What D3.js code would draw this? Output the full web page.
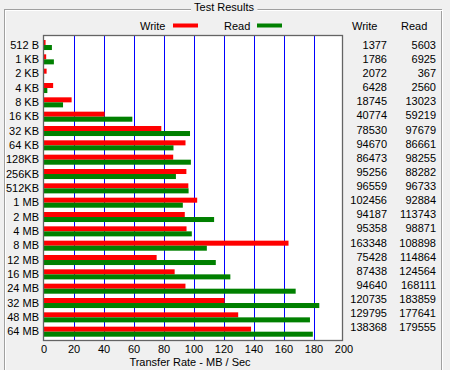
<!DOCTYPE html>
<html><head><meta charset="utf-8">
<script src="https://cdn.jsdelivr.net/npm/d3@7/dist/d3.min.js"></script>
<style>
html,body{margin:0;padding:0;background:#f0f0f0;}
svg{display:block;font-family:"Liberation Sans",Arial,sans-serif;}
</style></head><body>
<svg id="c" width="450" height="370"></svg>
<script>
const categories = ["512 B","1 KB","2 KB","4 KB","8 KB","16 KB","32 KB","64 KB","128KB","256KB","512KB","1 MB","2 MB","4 MB","8 MB","12 MB","16 MB","24 MB","32 MB","48 MB","64 MB"];
const writeKB = [1377,1786,2072,6428,18745,40774,78530,94670,86473,95256,96559,102456,94187,95358,163348,75428,87438,94640,120735,129795,138368];
const readKB  = [5603,6925,367,2560,13023,59219,97679,86661,98255,88282,96733,92884,113743,98871,108898,114864,124564,168111,183859,177641,179555];
const xTicks = [0,20,40,60,80,100,120,140,160,180,200];
const title = "Test Results";
const axisTitle = "Transfer Rate - MB / Sec";
const seriesNames = ["Write","Read"];
const seriesColors = ["#ff0000","#008000"];

const svg = d3.select("#c");
const FS = 11;

// group box
const gb = svg.append("g");
gb.append("rect").attr("x",4.5).attr("y",9.5).attr("width",437).attr("height",380)
  .attr("fill","none").attr("stroke","#a0a0a0");
gb.append("rect").attr("x",5.5).attr("y",10.5).attr("width",437).attr("height",380)
  .attr("fill","none").attr("stroke","#ffffff");
const tt = svg.append("text").attr("x",224).attr("y",7.5).attr("dy","0.35em")
  .attr("text-anchor","middle").attr("font-size",FS).attr("fill","#000").text(title);
const bb = tt.node().getBBox();
svg.insert("rect","text").attr("x",bb.x-3).attr("y",4).attr("width",bb.width+6).attr("height",10).attr("fill","#f0f0f0");

// plot
const x = d3.scaleLinear().domain([0,200]).range([43.5,343.5]);
const y = d3.scaleBand().domain(categories).range([37.85,338.85]).paddingInner(0.3).paddingOuter(0.15);
const plot = svg.append("g");
plot.append("rect").attr("x",43.5).attr("y",35.5).attr("width",299).attr("height",305)
  .attr("fill","#ffffff");
plot.selectAll("line.grid").data(xTicks.slice(1,-1)).join("line").attr("class","grid")
  .attr("x1",d=>Math.round(x(d))+0.5).attr("x2",d=>Math.round(x(d))+0.5)
  .attr("y1",36).attr("y2",340).attr("stroke","#0000ff").attr("stroke-width",1);

const bh = y.bandwidth()/2;
plot.selectAll("rect.w").data(categories).join("rect").attr("class","w")
  .attr("x",x(0)).attr("y",d=>y(d))
  .attr("width",(d,i)=>x(writeKB[i]/1000)-x(0)).attr("height",bh).attr("fill",seriesColors[0]);
plot.selectAll("rect.r").data(categories).join("rect").attr("class","r")
  .attr("x",x(0)).attr("y",d=>y(d)+bh)
  .attr("width",(d,i)=>x(readKB[i]/1000)-x(0)).attr("height",bh).attr("fill",seriesColors[1]);

plot.append("rect").attr("x",43.5).attr("y",35.5).attr("width",299).attr("height",305)
  .attr("fill","none").attr("stroke","#646464").attr("stroke-width",1.3);

// axes
const xAxis = d3.axisBottom(x).tickValues(xTicks).tickSize(0).tickPadding(0);
const gx = svg.append("g").attr("transform","translate(0,345)").call(xAxis);
gx.select(".domain").remove();
gx.selectAll("text").attr("font-size",FS).attr("font-family","Liberation Sans, Arial, sans-serif").attr("fill","#000").attr("dy","0.71em");

const yAxis = d3.axisLeft(y).tickSize(0).tickPadding(0);
const gy = svg.append("g").attr("transform","translate(39,0)").call(yAxis);
gy.select(".domain").remove();
gy.selectAll("text").attr("font-size",FS).attr("font-family","Liberation Sans, Arial, sans-serif").attr("fill","#000");

svg.append("text").attr("x",190).attr("y",362).attr("dy","0.35em").attr("text-anchor","middle")
  .attr("font-size",FS).text(axisTitle);

// legend
const legX = [140,224];
seriesNames.forEach((n,i)=>{
  svg.append("text").attr("x",legX[i]).attr("y",26).attr("dy","0.35em").attr("font-size",FS).text(n);
  svg.append("rect").attr("x",legX[i]+33).attr("y",23.5).attr("width",25).attr("height",4).attr("fill",seriesColors[i]);
});

// table
const ty = d3.scalePoint().domain(categories).range([45,327.5]);
svg.append("text").attr("x",352).attr("y",26).attr("dy","0.35em").attr("font-size",FS).text(seriesNames[0]);
svg.append("text").attr("x",401).attr("y",26).attr("dy","0.35em").attr("font-size",FS).text(seriesNames[1]);
svg.selectAll("text.tw").data(categories).join("text").attr("class","tw")
  .attr("x",387).attr("y",d=>ty(d)).attr("dy","0.35em").attr("text-anchor","end").attr("font-size",FS)
  .text((d,i)=>writeKB[i]);
svg.selectAll("text.tr").data(categories).join("text").attr("class","tr")
  .attr("x",436).attr("y",d=>ty(d)).attr("dy","0.35em").attr("text-anchor","end").attr("font-size",FS)
  .text((d,i)=>readKB[i]);
</script>
</body></html>
